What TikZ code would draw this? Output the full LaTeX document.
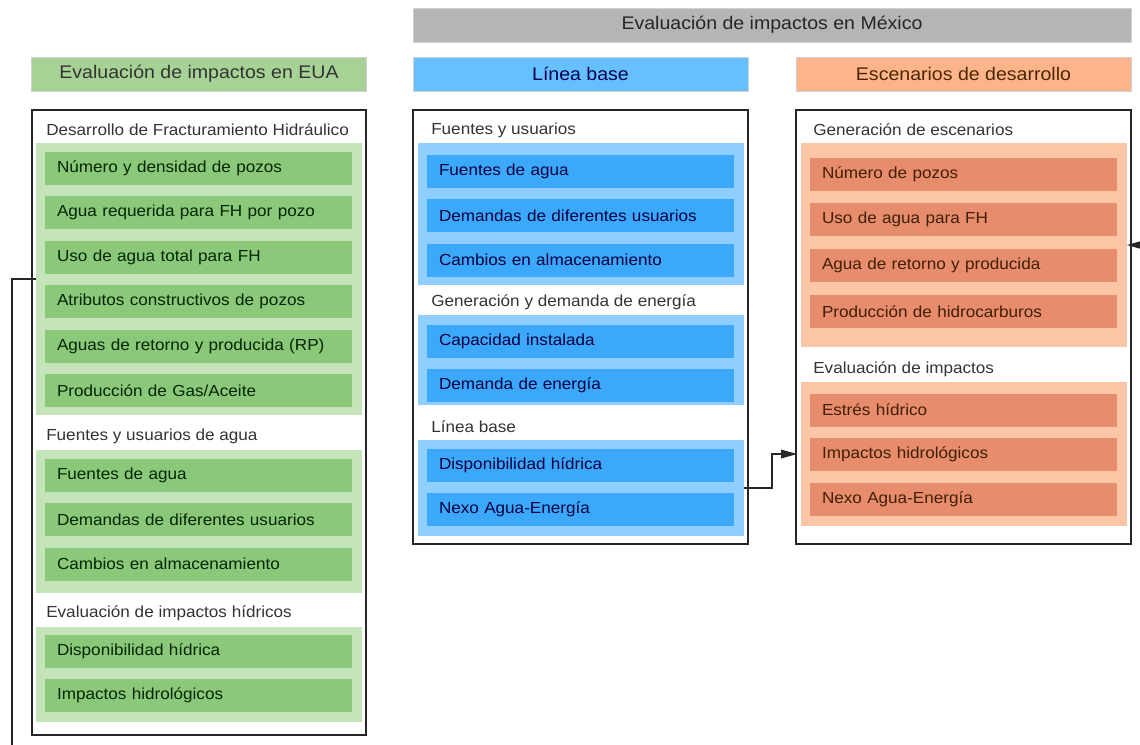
\documentclass[tikz,border=0pt]{standalone}
\usepackage{fontspec}
\setmainfont{Liberation Sans}[FakeStretch=1.07]
\usepackage{xcolor}
\usepackage{tikz}
\usetikzlibrary{arrows.meta, positioning, fit}

\definecolor{grayhead}{HTML}{B5B5B5}
\definecolor{greenhead}{HTML}{A6D395}
\definecolor{greenpanel}{HTML}{C6E4BA}
\definecolor{greenitem}{HTML}{8CC87A}
\definecolor{bluehead}{HTML}{66C0FF}
\definecolor{bluepanel}{HTML}{8ECFFF}
\definecolor{blueitem}{HTML}{3CA8FA}
\definecolor{orangehead}{HTML}{FDB48A}
\definecolor{orangepanel}{HTML}{FBC6A6}
\definecolor{orangeitem}{HTML}{E88C6E}

\begin{document}
\begin{tikzpicture}[
  x=0.75pt, y=-0.75pt,
  head/.style={rectangle, draw=black!18, line width=0.4pt, minimum width=251.25pt, minimum height=25.5pt, inner sep=0pt, font=\fontsize{13.7}{16}\selectfont},
  frame/.style={rectangle, draw=black!85, line width=0.9pt, inner sep=0pt},
  panel/.style={rectangle, minimum width=244pt, inner sep=0pt},
  item/.style={rectangle, text width=212.25pt, inner xsep=9pt, inner ysep=0pt, minimum height=24.75pt, align=left, font=\fontsize{12}{14}\selectfont},
  sect/.style={anchor=west, inner sep=0pt, text=black!80, font=\fontsize{12}{14}\selectfont},
  link/.style={-{Triangle[length=12pt, width=6.5pt]}, line width=0.9pt, draw=black!85},
  node distance=8.25pt
]
\useasboundingbox (0,0) rectangle (1140,744);
\clip (0,0) rectangle (1140,744);

% headers
\node[head, fill=grayhead, minimum width=538.5pt, text=black!85] (mexico) at (772,25) {Evaluación de impactos en México};
\node[head, fill=greenhead, text=black!80] (hEUA) at (199,74) {Evaluación de impactos en EUA};
\node[head, fill=bluehead, text=blue!30!black] (hBase) at (580.5,74) {Línea base};
\node[head, fill=orangehead, text=orange!30!black] (hEsc) at (963.5,74) {Escenarios de desarrollo};

% outer boxes
\node[frame, fit={(32,110) (366,735)}] (boxG) {};
\node[frame, fit={(413,110) (748,544)}] (boxB) {};
\node[frame, fit={(796,110) (1131,544)}] (boxO) {};

% EUA column
\node[sect] (sG1) at (46,130) {Desarrollo de Fracturamiento Hidráulico};
\node[panel, fill=greenpanel, minimum height=204pt] (pG1) at (199,279) {};
\node[item, fill=greenitem, text=green!15!black] (g11) at (198.5,168) {Número y densidad de pozos};
\node[item, fill=greenitem, text=green!15!black, below=of g11] (g12) {Agua requerida para FH por pozo};
\node[item, fill=greenitem, text=green!15!black, below=of g12] (g13) {Uso de agua total para FH};
\node[item, fill=greenitem, text=green!15!black, below=of g13] (g14) {Atributos constructivos de pozos};
\node[item, fill=greenitem, text=green!15!black, below=of g14] (g15) {Aguas de retorno y producida (RP)};
\node[item, fill=greenitem, text=green!15!black, below=of g15] (g16) {Producción de Gas/Aceite};

\node[sect] (sG2) at (46,436) {Fuentes y usuarios de agua};
\node[panel, fill=greenpanel, minimum height=107.25pt] (pG2) at (199,521.5) {};
\node[item, fill=greenitem, text=green!15!black] (g21) at (198.5,475) {Fuentes de agua};
\node[item, fill=greenitem, text=green!15!black, below=of g21] (g22) {Demandas de diferentes usuarios};
\node[item, fill=greenitem, text=green!15!black, below=of g22] (g23) {Cambios en almacenamiento};

\node[sect] (sG3) at (46,613) {Evaluación de impactos hídricos};
\node[panel, fill=greenpanel, minimum height=71.25pt] (pG3) at (199,674.5) {};
\node[item, fill=greenitem, text=green!15!black] (g31) at (198.5,651) {Disponibilidad hídrica};
\node[item, fill=greenitem, text=green!15!black, below=of g31] (g32) {Impactos hidrológicos};

% Linea base column
\node[sect] (sB1) at (431,130) {Fuentes y usuarios};
\node[panel, fill=bluepanel, minimum height=106.5pt] (pB1) at (581,214) {};
\node[item, fill=blueitem, text=blue!25!black] (b11) at (580.5,171) {Fuentes de agua};
\node[item, fill=blueitem, text=blue!25!black, below=of b11] (b12) {Demandas de diferentes usuarios};
\node[item, fill=blueitem, text=blue!25!black, below=of b12] (b13) {Cambios en almacenamiento};

\node[sect] (sB2) at (431,302) {Generación y demanda de energía};
\node[panel, fill=bluepanel, minimum height=67.5pt] (pB2) at (581,360) {};
\node[item, fill=blueitem, text=blue!25!black] (b21) at (580.5,341) {Capacidad instalada};
\node[item, fill=blueitem, text=blue!25!black, below=of b21] (b22) {Demanda de energía};

\node[sect] (sB3) at (431,427) {Línea base};
\node[panel, fill=bluepanel, minimum height=72pt] (pB3) at (581,488) {};
\node[item, fill=blueitem, text=blue!25!black] (b31) at (580.5,465) {Disponibilidad hídrica};
\node[item, fill=blueitem, text=blue!25!black, below=of b31] (b32) {Nexo Agua-Energía};

% Escenarios column
\node[sect] (sO1) at (813,130) {Generación de escenarios};
\node[panel, fill=orangepanel, minimum height=153pt] (pO1) at (964,245) {};
\node[item, fill=orangeitem, text=orange!25!black] (o11) at (963.5,174) {Número de pozos};
\node[item, fill=orangeitem, text=orange!25!black, below=9.2pt of o11] (o12) {Uso de agua para FH};
\node[item, fill=orangeitem, text=orange!25!black, below=9.2pt of o12] (o13) {Agua de retorno y producida};
\node[item, fill=orangeitem, text=orange!25!black, below=9.2pt of o13] (o14) {Producción de hidrocarburos};

\node[sect] (sO2) at (813,369) {Evaluación de impactos};
\node[panel, fill=orangepanel, minimum height=108pt] (pO2) at (964,454) {};
\node[item, fill=orangeitem, text=orange!25!black] (o21) at (963.5,410) {Estrés hídrico};
\node[item, fill=orangeitem, text=orange!25!black, below=of o21] (o22) {Impactos hidrológicos};
\node[item, fill=orangeitem, text=orange!25!black, below=of o22] (o23) {Nexo Agua-Energía};

% connectors
\draw[link, shorten >=3pt] (pB3.east) -- ++(28,0) |- (pO2.west);
\coordinate (turnL) at (12,770);
\coordinate (turnR) at (1160,770);
\draw[link] (pG1.west) -| (turnL) -- (turnR) |- (pO1.east);
\end{tikzpicture}
\end{document}
